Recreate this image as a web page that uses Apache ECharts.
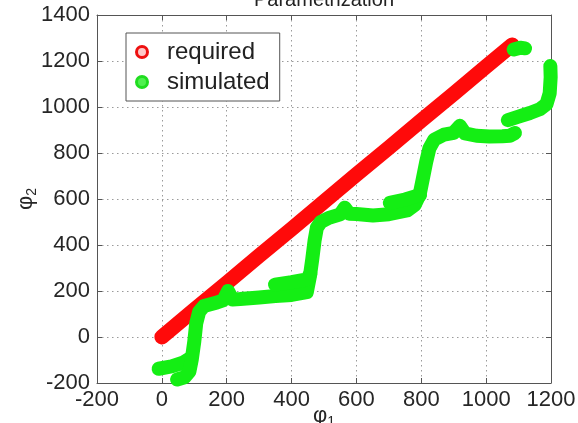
<!DOCTYPE html>
<html>
<head>
<meta charset="utf-8">
<script src="https://cdn.jsdelivr.net/npm/echarts@6/dist/echarts.min.js"></script>
<style>
html,body{margin:0;padding:0;background:#fff;}
#chart{width:578px;height:423px;}
</style>
</head>
<body>
<div id="chart"></div>
<script>
// ---- data ----
const titleText = 'Parametrization';
const xTicks = [-200, 0, 200, 400, 600, 800, 1000, 1200];
const yTicks = [-200, 0, 200, 400, 600, 800, 1000, 1200, 1400];

// required trajectory (phi1, phi2)
const reqPhi1 = [0, 100, 200, 300, 400, 500, 600, 700, 800, 900, 1000, 1080];
const reqPhi2 = [0, 118, 235, 353, 470, 588, 706, 823, 941, 1058, 1176, 1270];

// simulated trajectory, split into the visible strands
const simA1 = [-10, 30, 65, 85];
const simA2 = [-138, -128, -112, -95];

const simB1 = [47, 70, 85, 92, 100, 106, 115, 130, 170, 190, 204, 218, 241, 300, 350, 400, 447, 456, 464, 471, 478, 490, 515, 550, 564, 578, 600, 651, 700, 756, 780, 795, 805, 815, 825, 840, 870, 900, 919, 935, 970, 1010, 1050, 1073, 1089];
const simB2 = [-185, -175, -150, -100, -20, 60, 110, 135, 150, 160, 200, 163, 165, 172, 178, 183, 195, 260, 340, 420, 475, 500, 518, 533, 562, 536, 535, 528, 534, 550, 575, 620, 690, 760, 820, 858, 880, 888, 918, 885, 875, 872, 873, 875, 887];

const simC1 = [349, 400, 447, 458];
const simC2 = [228, 238, 250, 275];

const simD1 = [703, 750, 796];
const simD2 = [583, 598, 617];

const simE1 = [1067, 1100, 1135, 1165, 1186, 1196, 1199, 1198];
const simE2 = [943, 958, 974, 990, 1012, 1060, 1130, 1178];

const simF1 = [1085, 1105, 1120];
const simF2 = [1250, 1258, 1255];

function pairs(xs, ys) { return xs.map((x, i) => [x, ys[i]]); }

const FONT = 'Liberation Sans, Arial, sans-serif';
const RED = '#ff0a0a';
const GREEN = '#14ee14';
const LW = 14;
const plain = v => String(v);

function simSeries(xs, ys) {
  return {
    name: 'simulated', type: 'line', data: pairs(xs, ys),
    showSymbol: false, clip: false, smooth: false,
    lineStyle: { color: GREEN, width: LW, cap: 'round', join: 'round' },
    itemStyle: { color: GREEN }, z: 3
  };
}

const chart = echarts.init(document.getElementById('chart'), null, { renderer: 'canvas' });

const axisCommon = {
  type: 'value',
  axisLine: { show: true, onZero: false, lineStyle: { color: '#555', width: 1 } },
  axisTick: { show: true, inside: true, length: 5, lineStyle: { color: '#555' } }
};

const option = {
  animation: false,
  backgroundColor: '#fff',
  title: {
    text: titleText, left: 324, top: -10, textAlign: 'center', padding: 0,
    textStyle: { fontFamily: FONT, fontSize: 20, fontWeight: 'normal', color: '#222' }
  },
  grid: { left: 97, right: 27, top: 15, bottom: 40, containLabel: false, outerBoundsMode: 'none' },
  legend: {
    orient: 'vertical', left: 126, top: 33,
    padding: [6, 10, 6, 9], itemGap: 4, itemWidth: 40, itemHeight: 11,
    borderColor: '#555', borderWidth: 1, borderRadius: 0, backgroundColor: '#fff',
    textStyle: { fontFamily: FONT, fontSize: 24, color: '#222', lineHeight: 26 },
    data: [
      { name: 'required', icon: 'circle', itemStyle: { color: '#ffc8c8', borderColor: '#ee1010', borderWidth: 3 } },
      { name: 'simulated', icon: 'circle', itemStyle: { color: '#50f050', borderColor: '#20dd20', borderWidth: 3 } }
    ]
  },
  xAxis: [
    Object.assign({}, axisCommon, {
      position: 'bottom', min: xTicks[0], max: xTicks[xTicks.length - 1], interval: 200,
      axisLabel: { fontFamily: FONT, fontSize: 22, color: '#262626', margin: 6, formatter: plain },
      splitLine: { show: true, lineStyle: { color: '#9a9a9a', type: [1.5, 3.5], width: 1 } },
      name: '{a|φ}{b|1}', nameLocation: 'middle', nameGap: 20, nameMoveOverlap: false,
      nameTextStyle: { rich: {
        a: { fontFamily: FONT, fontSize: 22, color: '#262626' },
        b: { fontFamily: FONT, fontSize: 14, color: '#262626', padding: [12, 0, 0, 0] }
      } }
    }),
    Object.assign({}, axisCommon, {
      position: 'top', min: xTicks[0], max: xTicks[xTicks.length - 1], interval: 200,
      axisLabel: { show: false }, splitLine: { show: false }
    })
  ],
  yAxis: [
    Object.assign({}, axisCommon, {
      position: 'left', min: yTicks[0], max: yTicks[yTicks.length - 1], interval: 200,
      axisLabel: { fontFamily: FONT, fontSize: 22, color: '#262626', margin: 7, formatter: plain },
      splitLine: { show: true, lineStyle: { color: '#9a9a9a', type: [1.5, 3.5], width: 1 } },
      name: '{a|φ}{b|2}', nameLocation: 'middle', nameGap: 58, nameRotate: 90, nameMoveOverlap: false,
      nameTextStyle: { rich: {
        a: { fontFamily: FONT, fontSize: 22, color: '#262626' },
        b: { fontFamily: FONT, fontSize: 14, color: '#262626', padding: [12, 0, 0, 0] }
      } }
    }),
    Object.assign({}, axisCommon, {
      position: 'right', min: yTicks[0], max: yTicks[yTicks.length - 1], interval: 200,
      axisLabel: { show: false }, splitLine: { show: false }
    })
  ],
  series: [
    {
      name: 'required', type: 'line', data: pairs(reqPhi1, reqPhi2),
      showSymbol: false, clip: false,
      lineStyle: { color: RED, width: LW + 1, cap: 'round', join: 'round' },
      itemStyle: { color: RED }, z: 2
    },
    simSeries(simA1, simA2),
    simSeries(simB1, simB2),
    simSeries(simC1, simC2),
    simSeries(simD1, simD2),
    simSeries(simE1, simE2),
    simSeries(simF1, simF2)
  ]
};
chart.setOption(option);
</script>
</body>
</html>
